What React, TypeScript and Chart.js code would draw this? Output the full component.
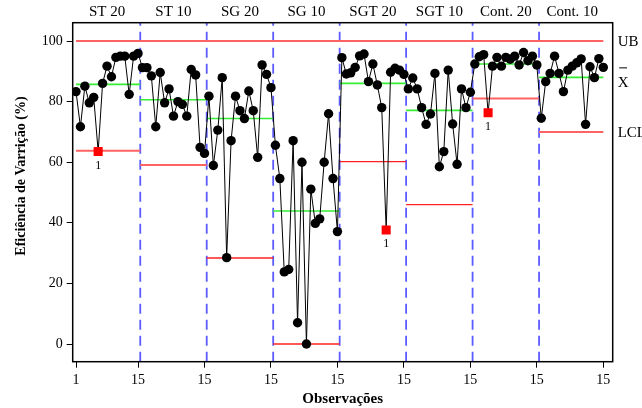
import React, { useEffect, useRef } from "react";
import { Chart, registerables } from "chart.js";

Chart.register(...registerables);

const stageLabels = ["ST 20", "ST 10", "SG 20", "SG 10", "SGT 20", "SGT 10", "Cont. 20", "Cont. 10"];
const obsST20 = [83.3, 71.7, 85.1, 79.6, 81.4, 63.5, 86, 91.7, 88.2, 94.6, 95, 95, 82.4, 95, 95.9];
const obsST10 = [91.2, 91.2, 88.5, 71.7, 89.6, 79.6, 84.2, 75.2, 80, 79.1, 75.2, 90.6, 88.8, 64.9, 62.9];
const obsSG20 = [81.8, 58.9, 70.6, 87.9, 28.5, 67.1, 81.8, 77, 74.4, 83.5, 77, 61.6, 92.1, 89, 84.6];
const obsSG10 = [65.6, 54.6, 23.8, 24.6, 67.1, 7.0, 60, 0, 51.1, 39.8, 41.3, 60, 76, 54.6, 37.1];
const obsSGT20 = [94.5, 89.1, 89.5, 91.3, 95.1, 95.7, 86.6, 92.4, 85.5, 78, 37.6, 89.7, 91, 90.4, 89];
const obsSGT10 = [84.2, 87.8, 84.2, 78, 72.5, 75.9, 89.3, 58.5, 63.5, 90.4, 72.6, 59.3, 84.2, 78, 83.1];
const obsCont20 = [92.4, 94.8, 95.5, 76.3, 91.7, 94.6, 91.7, 94.6, 94, 95, 92.1, 96.2, 93.5, 95, 92.1];
const obsCont10 = [74.5, 86.6, 89.3, 95, 89.3, 83.3, 90.4, 91.7, 92.8, 94.1, 72.5, 91.5, 87.9, 94.2, 91.3];
const stageMeans = [85.7, 80.6, 74.4, 43.9, 86, 77.1, 92.4, 88];
const stageLCL = [63.8, 59.1, 28.4, 0, 60.2, 46, 81, 70];
const upperBound = 100;
const outOfControl = [6, 71, 94];
const xTickValues = [1, 15, 30, 45, 60, 75, 90, 105, 120];
const xTickLabels = ["1", "15", "15", "15", "15", "15", "15", "15", "15"];
const yTickValues = [0, 20, 40, 60, 80, 100];
const rightLabels = ["UB", "X", "LCL"];

const SERIF = "'Liberation Serif', 'Times New Roman', serif";
const X_MIN = 0.255;
const X_MAX = 122.12;
const Y_MIN = -5.84;
const Y_MAX = 106.04;
const STAGE_N = 15;

export default function App() {
  const ref = useRef<HTMLCanvasElement | null>(null);

  useEffect(() => {
    const canvas = ref.current;
    if (!canvas) return;
    const allObs = [obsST20, obsST10, obsSG20, obsSG10, obsSGT20, obsSGT10, obsCont20, obsCont10].flat();
    const obsData = allObs.map((v, i) => ({ x: i + 1, y: v }));
    const isOut = (i: number) => outOfControl.includes(i + 1);

    const stageStart = (k: number) => (k === 0 ? 1 : k * STAGE_N + 0.5);
    const stageEnd = (k: number) => (k === stageLabels.length - 1 ? allObs.length : (k + 1) * STAGE_N + 0.5);

    const datasets: any[] = [];
    datasets.push({
      label: "obs",
      data: obsData,
      borderColor: "#000",
      borderWidth: 1,
      pointRadius: obsData.map((_, i) => (isOut(i) ? 6.4 : 4.7)),
      pointStyle: obsData.map((_, i) => (isOut(i) ? "rect" : "circle")),
      pointBackgroundColor: obsData.map((_, i) => (isOut(i) ? "#ff0000" : "#000")),
      pointBorderColor: obsData.map((_, i) => (isOut(i) ? "#ff0000" : "#000")),
      pointBorderWidth: 0,
      tension: 0,
    });
    stageLabels.forEach((_, k) => {
      datasets.push({
        label: "mean" + k,
        data: [
          { x: stageStart(k), y: stageMeans[k] },
          { x: stageEnd(k), y: stageMeans[k] },
        ],
        borderColor: "#33ee33",
        borderWidth: 1.6,
        pointRadius: 0,
      });
      datasets.push({
        label: "lcl" + k,
        data: [
          { x: stageStart(k), y: stageLCL[k] },
          { x: stageEnd(k), y: stageLCL[k] },
        ],
        borderColor: k >= 2 && k <= 5 ? "#ff2020" : "#ff6262",
        borderWidth: k >= 2 && k <= 5 ? 1.4 : 2,
        pointRadius: 0,
      });
    });
    datasets.push({
      label: "ub",
      data: [
        { x: 1, y: upperBound },
        { x: allObs.length, y: upperBound },
      ],
      borderColor: "#ff6262",
      borderWidth: 2,
      pointRadius: 0,
    });
    for (let k = 1; k < stageLabels.length; k++) {
      datasets.push({
        label: "sep" + k,
        data: [
          { x: k * STAGE_N + 0.5, y: Y_MIN },
          { x: k * STAGE_N + 0.5, y: Y_MAX },
        ],
        borderColor: "rgba(50,50,255,0.8)",
        borderWidth: 1.8,
        borderDash: [10, 6],
        pointRadius: 0,
      });
    }

    const decor = {
      id: "decor",
      afterDraw(chart: any) {
        const { ctx, chartArea, scales } = chart;
        const xs = scales.x;
        const ys = scales.y;
        ctx.save();
        ctx.strokeStyle = "#000";
        ctx.lineWidth = 1.5;
        ctx.strokeRect(chartArea.left, chartArea.top, chartArea.right - chartArea.left, chartArea.bottom - chartArea.top);
        ctx.fillStyle = "#000";
        ctx.font = "15px " + SERIF;
        ctx.textAlign = "center";
        ctx.textBaseline = "middle";
        stageLabels.forEach((lab, k) => {
          const cx = xs.getPixelForValue(k * STAGE_N + 8);
          ctx.fillText(lab, cx, 12.5);
        });
        ctx.textAlign = "left";
        const lastK = stageLabels.length - 1;
        const lx = chartArea.right + 5;
        ctx.fillText(rightLabels[0], lx, ys.getPixelForValue(upperBound) + 1);
        const xy = ys.getPixelForValue(stageMeans[lastK]) + 6;
        ctx.fillText(rightLabels[1], lx, xy);
        const xw = ctx.measureText(rightLabels[1]).width;
        ctx.lineWidth = 1;
        ctx.beginPath();
        ctx.moveTo(lx + 1.5, xy - 15.5);
        ctx.lineTo(lx + xw - 1.5, xy - 15.5);
        ctx.stroke();
        ctx.fillText(rightLabels[2], lx, ys.getPixelForValue(stageLCL[lastK]) + 1);
        ctx.font = "12px " + SERIF;
        ctx.textAlign = "center";
        outOfControl.forEach((idx) => {
          const px = xs.getPixelForValue(idx);
          const py = ys.getPixelForValue(allObs[idx - 1]);
          ctx.fillText("1", px, py + 14);
        });
        ctx.translate(21, 176);
        ctx.rotate(-Math.PI / 2);
        ctx.font = "bold 14px " + SERIF;
        ctx.fillText("Eficiência de Varrição (%)", 0, 0);
        ctx.restore();
      },
    };

    const chart = new Chart(canvas, {
      type: "line",
      data: { datasets },
      plugins: [decor],
      options: {
        responsive: false,
        animation: false,
        events: [],
        layout: { padding: { left: 0, top: 22.7, right: 29.3, bottom: 0 } },
        plugins: { legend: { display: false }, tooltip: { enabled: false } },
        scales: {
          x: {
            type: "linear",
            min: X_MIN,
            max: X_MAX,
            afterBuildTicks: (s: any) => {
              s.ticks = xTickValues.map((v) => ({ value: v }));
            },
            afterFit: (s: any) => {
              s.height = 408 - 361.7;
            },
            ticks: {
              autoSkip: false,
              maxRotation: 0,
              padding: 4,
              color: "#000",
              font: { family: SERIF, size: 14 },
              callback: (_v: any, i: number) => xTickLabels[i],
            },
            grid: { display: true, drawOnChartArea: false, drawTicks: true, tickLength: 6, color: "#000", lineWidth: 1 },
            border: { display: false },
            title: {
              display: true,
              text: "Observações",
              color: "#000",
              font: { family: SERIF, size: 15, weight: "bold" },
              padding: { top: 0, bottom: 0 },
            },
          },
          y: {
            type: "linear",
            min: Y_MIN,
            max: Y_MAX,
            afterBuildTicks: (s: any) => {
              s.ticks = yTickValues.map((v) => ({ value: v }));
            },
            afterFit: (s: any) => {
              s.width = 72.7;
            },
            ticks: {
              padding: 4,
              color: "#000",
              font: { family: SERIF, size: 14 },
            },
            grid: { display: true, drawOnChartArea: false, drawTicks: true, tickLength: 6, color: "#000", lineWidth: 1 },
            border: { display: false },
          },
        },
      } as any,
    });
    return () => chart.destroy();
  }, []);

  return (
    <div style={{ position: "fixed", left: 0, top: 0, width: 642, height: 408, background: "#fff" }}>
      <canvas ref={ref} width={642} height={408} style={{ width: 642, height: 408 }} />
    </div>
  );
}
